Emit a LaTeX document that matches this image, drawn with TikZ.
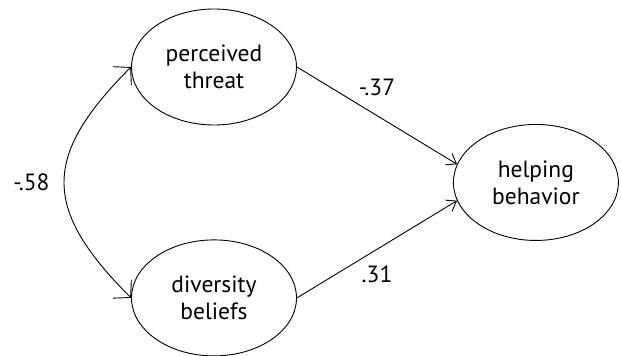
\documentclass[tikz,border=0pt]{standalone}
\usepackage{fontspec}
\setmainfont{PT Sans}
\usetikzlibrary{arrows.meta,shapes.geometric,positioning,calc}
\tikzset{latent/.style ={
        ellipse,
        draw=black,
        line width=0.9pt,
        minimum width=165pt,
        minimum height=116pt,
        inner sep=0pt,
        align=center,
        font=\fontsize{23.5}{27}\selectfont
    },
    effect/.style ={
        draw,
        line width=0.9pt,
        -{Straight Barb[length=9pt,width=13pt]}
    },
    covar/.style ={
        draw,
        line width=0.9pt,
        {Straight Barb[length=12pt,width=26pt]}-{Straight Barb[length=12pt,width=26pt]}
    },
    coef/.style ={
        font=\fontsize{23.5}{27}\selectfont
    }}

\begin{document}
\begin{tikzpicture}[x=1pt,y=1pt]
    \useasboundingbox (0,0) rectangle (622,-356);
    \node (threat)[latent] at (214,-67) {perceived\\threat};
    \node (beliefs)[latent,below=114pt of threat] {diversity\\beliefs};
    \node (behavior)[latent,right=156pt of $(threat.east)!0.5!(beliefs.east)$] {helping\\behavior};

    \draw[effect] (threat.east) -- node [coef,above=16pt] {-.37} (behavior.167);
    \draw[effect] (beliefs.east) -- node [coef,below=13pt] {.31} (behavior.193);
    \draw[covar] (threat.west) to [out=-135,in=135,looseness=1.4] node [coef,left=11pt] {-.58} (beliefs.west);

\end{tikzpicture}
\end{document}
